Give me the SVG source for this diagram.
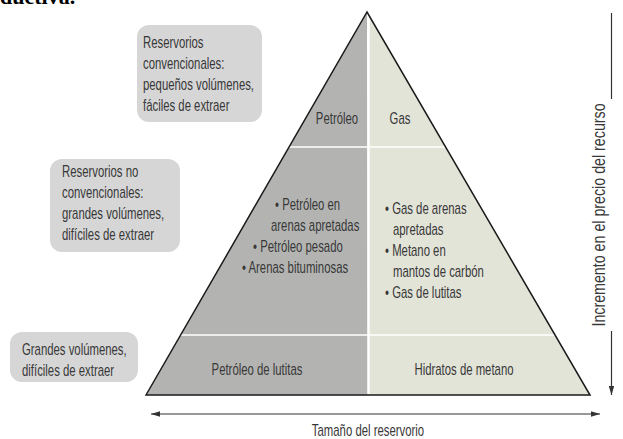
<svg xmlns="http://www.w3.org/2000/svg" width="623" height="439" viewBox="0 0 623 439">
<defs>
<style>
text{font-family:"Liberation Sans",Arial,sans-serif;font-size:16px;fill:#383838}
.box{fill:#d6d6d6}
.c{text-anchor:middle}
.ax{stroke:#333;stroke-width:1.2;fill:none}
.div{stroke:#fff;fill:none}
.v{font-size:18.5px}
</style>
<marker id="ah" viewBox="0 0 10 6" refX="10" refY="3" markerWidth="9" markerHeight="5.4" orient="auto-start-reverse" markerUnits="userSpaceOnUse">
<path d="M0,0 L10,3 L0,6 Z" fill="#333"/>
</marker>
</defs>
<rect width="623" height="439" fill="#fff"/>
<text x="0" y="4" style="font-family:'Liberation Serif',serif;font-weight:bold;font-size:22px;fill:#000">ductiva.</text>

<g id="box-convencionales">
<rect class="box" x="137" y="25" width="125" height="97" rx="12"/>
<text transform="translate(143,48) scale(.71,1)">Reservorios</text>
<text transform="translate(143,69) scale(.71,1)">convencionales:</text>
<text transform="translate(143,90) scale(.71,1)">pequeños volúmenes,</text>
<text transform="translate(143,111) scale(.71,1)">fáciles de extraer</text>
</g>
<g id="box-no-convencionales">
<rect class="box" x="50" y="159" width="130" height="93" rx="12"/>
<text transform="translate(62,177) scale(.71,1)">Reservorios no</text>
<text transform="translate(62,198) scale(.71,1)">convencionales:</text>
<text transform="translate(62,219) scale(.71,1)">grandes volúmenes,</text>
<text transform="translate(62,240) scale(.71,1)">difíciles de extraer</text>
</g>
<g id="box-grandes">
<rect class="box" x="10" y="332" width="128" height="50" rx="12"/>
<text transform="translate(22,355) scale(.71,1)">Grandes volúmenes,</text>
<text transform="translate(22,376) scale(.71,1)">difíciles de extraer</text>
</g>

<g id="pyramid">
<polygon points="367,12 146,395 368,395" fill="#b3b4b2"/>
<polygon points="368,12 590,395 368,395" fill="#e3e4d8"/>
<line class="div" x1="368.5" y1="14" x2="368.5" y2="394" stroke-width="2.5"/>
<line class="div" x1="289" y1="147" x2="446" y2="147" stroke-width="1.5"/>
<line class="div" x1="181" y1="335" x2="555" y2="335" stroke-width="1.5"/>
<path d="M146,395 L367,12 L590,395 Z" fill="none" stroke="#1a1a1a" stroke-width="1.5" stroke-linejoin="miter"/>
</g>
<g id="petroleo"><text class="c" transform="translate(337,124) scale(.71,1)">Petróleo</text></g>
<g id="gas"><text class="c" transform="translate(400,124) scale(.71,1)">Gas</text></g>
<g id="no-conv-petroleo">
<text transform="translate(275,210) scale(.71,1)">• Petróleo en</text>
<text transform="translate(271,231) scale(.71,1)">arenas apretadas</text>
<text transform="translate(253,252) scale(.71,1)">• Petróleo pesado</text>
<text transform="translate(242,273) scale(.71,1)">• Arenas bituminosas</text>
</g>
<g id="no-conv-gas">
<text transform="translate(385,214) scale(.71,1)">• Gas de arenas</text>
<text transform="translate(393,235) scale(.71,1)">apretadas</text>
<text transform="translate(385,256) scale(.71,1)">• Metano en</text>
<text transform="translate(393,277) scale(.71,1)">mantos de carbón</text>
<text transform="translate(385,298) scale(.71,1)">• Gas de lutitas</text>
</g>
<g id="lutitas"><text class="c" transform="translate(257,375) scale(.71,1)">Petróleo de lutitas</text></g>
<g id="hidratos"><text class="c" transform="translate(464,375) scale(.71,1)">Hidratos de metano</text></g>

<g id="connectors">
<line class="ax" x1="151" y1="414" x2="600" y2="414" marker-start="url(#ah)" marker-end="url(#ah)"/>
<line class="ax" x1="611.5" y1="13" x2="611.5" y2="99"/>
<line class="ax" x1="611.5" y1="331" x2="611.5" y2="395" marker-end="url(#ah)"/>
</g>
<g id="labels">
<text class="c" transform="translate(368,436) scale(.71,1)">Tamaño del reservorio</text>
<text class="c v" transform="translate(605,215) rotate(-90) scale(.77,1)">Incremento en el precio del recurso</text>
</g>
</svg>
